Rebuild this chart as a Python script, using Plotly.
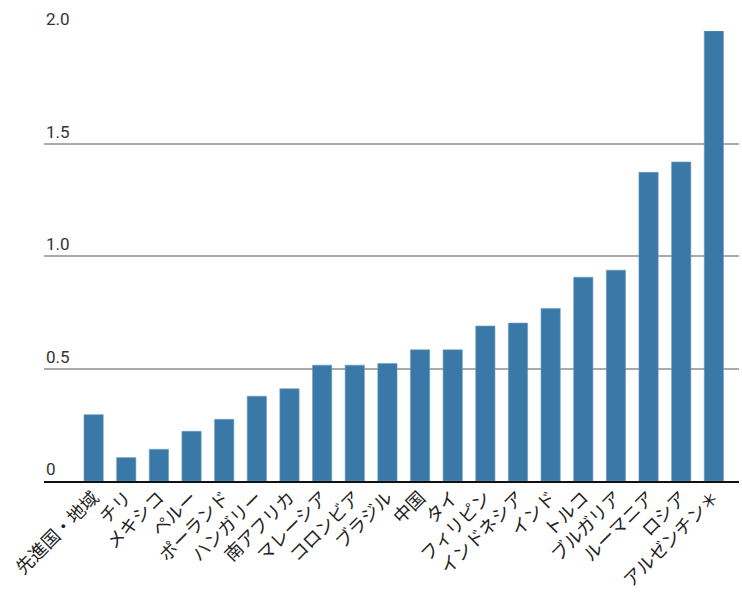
import plotly.graph_objects as go

categories = ["先進国・地域", "チリ", "メキシコ", "ペルー", "ポーランド", "ハンガリー", "南アフリカ",
              "マレーシア", "コロンビア", "ブラジル", "中国", "タイ", "フィリピン", "インドネシア",
              "インド", "トルコ", "ブルガリア", "ルーマニア", "ロシア", "アルゼンチン＊"]
values = [0.295, 0.104, 0.141, 0.221, 0.274, 0.377, 0.410, 0.515, 0.515, 0.522,
          0.583, 0.583, 0.689, 0.702, 0.767, 0.906, 0.937, 1.372, 1.418, 2.0]
ytick_vals = [0, 0.5, 1.0, 1.5, 2.0]
ytick_text = ["0", "0.5", "1.0", "1.5", "2.0"]

fig = go.Figure(go.Bar(
    x=list(range(len(categories))), y=values,
    marker=dict(color="#3a78a7", line=dict(color="#6f9dc4", width=0.6)),
    width=0.59,
))

annotations = [
    dict(x=0, y=v, xref="paper", yref="y", text=t, showarrow=False,
         xanchor="left", yanchor="bottom", yshift=0,
         font=dict(family="Roboto, sans-serif", size=17, color="#333333"))
    for v, t in zip(ytick_vals, ytick_text)
]

fig.update_layout(
    width=742, height=594,
    margin=dict(l=44, r=3, t=31, b=111),
    plot_bgcolor="white", paper_bgcolor="white",
    showlegend=False,
    annotations=annotations,
    xaxis=dict(
        range=[-1.52, 19.77],
        tickmode="array", tickvals=list(range(len(categories))), ticktext=categories,
        tickangle=-45, showgrid=False, zeroline=False,
        showline=True, linecolor="#111111", linewidth=2,
        ticks="", ticklen=0, ticklabelstandoff=-3,
        tickfont=dict(family="Noto Sans CJK JP", size=18, color="#222222"),
    ),
    yaxis=dict(
        range=[0, 2.0], tickvals=ytick_vals, showticklabels=False,
        showgrid=True, gridcolor="#aaaaaa", gridwidth=1.5,
        zeroline=False, showline=False, ticks="",
    ),
)

fig.write_html("out.html")
